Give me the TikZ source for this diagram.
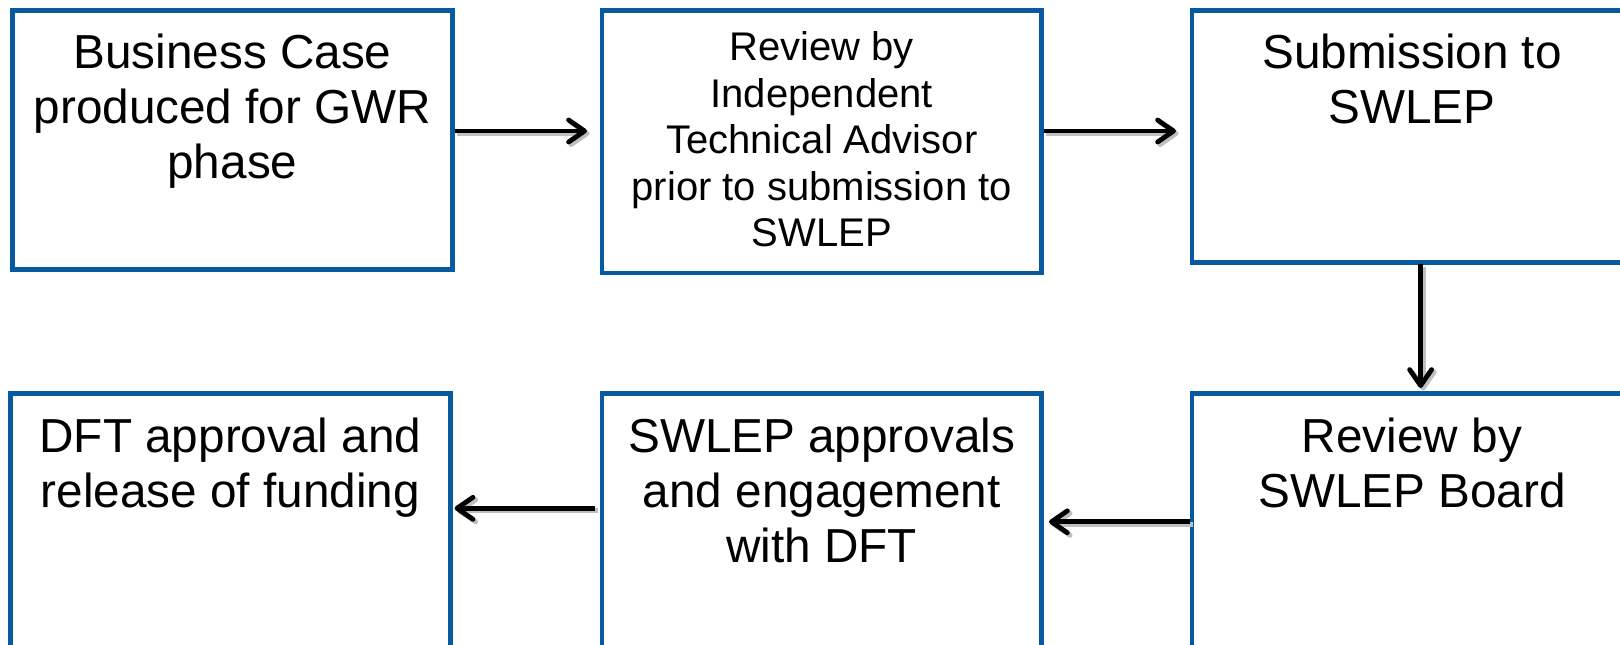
\documentclass[tikz,border=0pt]{standalone}
\usepackage{fontspec}
\setmainfont{Liberation Sans}
\usetikzlibrary{arrows.meta}
\definecolor{boxblue}{RGB}{8,90,160}
\begin{document}
\begin{tikzpicture}[x=1pt,y=-1pt,
  box/.style={draw=boxblue, line width=4.5pt, rectangle, inner sep=0pt, outer sep=0pt, fill=white},
  bigtxt/.style={font=\fontsize{47.7}{55}\selectfont, align=center, inner sep=0pt, anchor=north},
  smalltxt/.style={font=\fontsize{40}{46.5}\selectfont, align=center, inner sep=0pt, anchor=north},
  arr/.style={line width=4.8pt, -{Straight Barb[length=16pt,width=22pt,line join=round,line cap=round]},
    preaction={draw=black!25, line width=5pt, transform canvas={shift={(2.5pt,-2.5pt)}}}}]
\useasboundingbox (0,0) rectangle (1620,645);
\clip (0,0) rectangle (1620,645);
\fill[white] (0,0) rectangle (1620,645);
% boxes
\node[box, minimum width=440.1pt, minimum height=259.4pt] (b1) at (232.45,140) {};
\node[box, minimum width=439.5pt, minimum height=262.5pt] (b2) at (821.75,141.55) {};
\node[box, minimum width=440pt, minimum height=252.1pt] (b3) at (1412,136.35) {};
\node[box, minimum width=440.2pt, minimum height=270.4pt] (b4) at (230.4,528.8) {};
\node[box, minimum width=439.5pt, minimum height=270.4pt] (b5) at (821.75,528.8) {};
\node[box, minimum width=440pt, minimum height=270.4pt] (b6) at (1412,528.8) {};
% texts
\node[bigtxt] (t1) at ([yshift=-23pt]b1.north) {Business Case\\produced for GWR\\phase};
\node[smalltxt] (t2) at ([yshift=-21.3pt]b2.north) {Review by\\Independent\\Technical Advisor\\prior to submission to\\SWLEP};
\node[bigtxt] (t3) at ([yshift=-23pt]b3.north) {Submission to\\SWLEP};
\node[bigtxt] (t4) at ([yshift=-24.2pt]b4.north) {DFT approval and\\release of funding};
\node[bigtxt] (t5) at ([yshift=-24.2pt]b5.north) {SWLEP approvals\\and engagement\\with DFT};
\node[bigtxt] (t6) at ([yshift=-24.2pt]b6.north) {Review by\\SWLEP Board};
% connectors
\coordinate (e1) at (587,131);
\coordinate (e2) at (1176,131);
\coordinate (e3) at (1420.6,388);
\coordinate (e4) at (1049,521.8);
\coordinate (e5) at (454.6,508.3);
\draw[arr] ([xshift=2pt]b1.east |- e1) -- (e1);
\draw[arr] ([xshift=2pt]b2.east |- e2) -- (e2);
\draw[arr] ([yshift=-2pt]e3 |- b3.south) -- (e3);
\draw[arr] ([xshift=-2pt]b6.west |- e4) -- (e4);
\draw[arr] ([xshift=-7pt]b5.west |- e5) -- (e5);
\end{tikzpicture}
\end{document}
